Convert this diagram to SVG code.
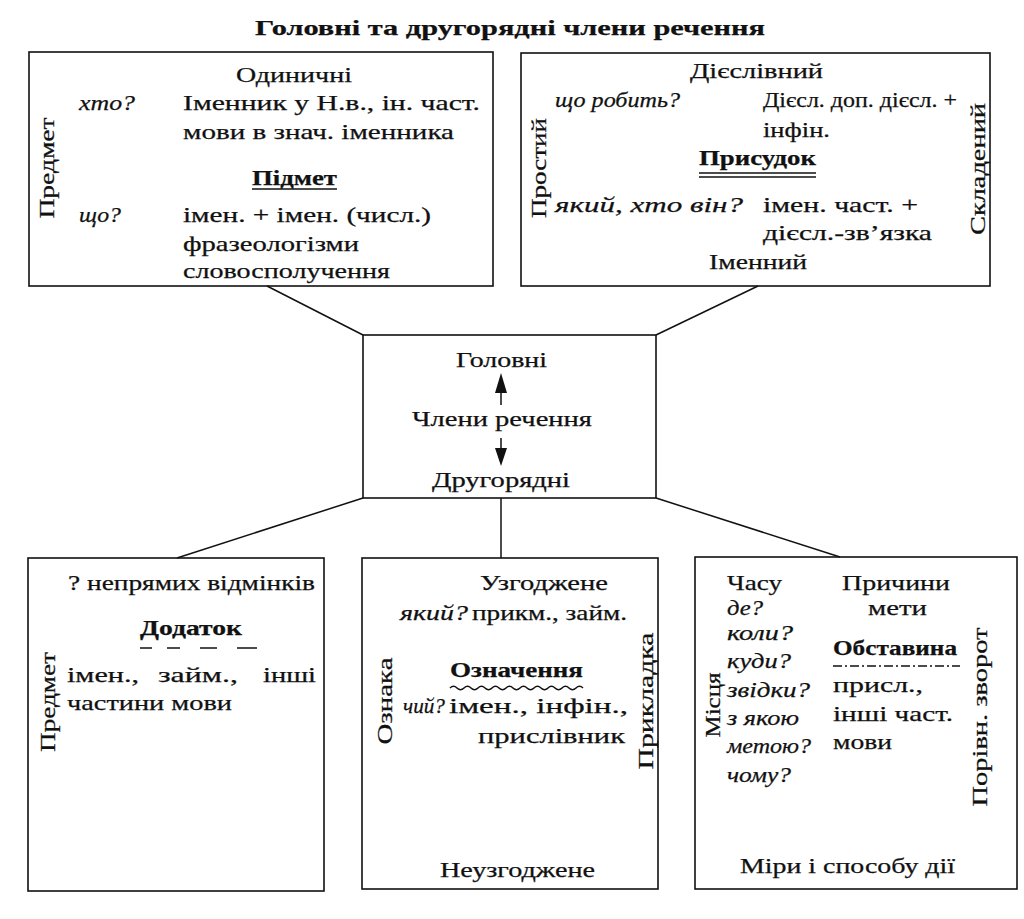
<svg xmlns="http://www.w3.org/2000/svg" width="1024" height="919" viewBox="0 0 1024 919">
<defs>
<style>
.t{font-family:"Liberation Serif","DejaVu Serif",serif;font-size:21px;fill:#111;stroke:#111;stroke-width:0.25}
.b{font-weight:bold}
.i{font-style:italic}
.m{text-anchor:middle}
.box{fill:none;stroke:#111;stroke-width:1.6}
.ln{stroke:#111;stroke-width:1.5;fill:none}
.ah{fill:#111;stroke:none}
</style>
</defs>
<rect width="1024" height="919" fill="#fff"/>
<text class="t b m" x="510" y="35" font-size="27" textLength="510" lengthAdjust="spacingAndGlyphs">Головні та другорядні члени речення</text>

<g id="connectors">
<line class="ln" x1="267" y1="286" x2="363" y2="335"/>
<line class="ln" x1="758" y1="286" x2="656" y2="335"/>
<line class="ln" x1="363" y1="498" x2="177" y2="558"/>
<line class="ln" x1="501" y1="498" x2="501" y2="558"/>
<line class="ln" x1="656" y1="498" x2="840" y2="557"/>
</g>

<g id="pidmet">
<rect class="box" x="29" y="52" width="464" height="234"/>
<text class="t" transform="translate(54,168) rotate(-90)" text-anchor="middle" textLength="101" lengthAdjust="spacingAndGlyphs">Предмет</text>
<text class="t" x="236" y="82" textLength="116" lengthAdjust="spacingAndGlyphs">Одиничні</text>
<text class="t i" x="79" y="110" textLength="56" lengthAdjust="spacingAndGlyphs">хто?</text>
<text class="t" x="183" y="110" textLength="297" lengthAdjust="spacingAndGlyphs">Іменник у Н.в., ін. част.</text>
<text class="t" x="183" y="139" textLength="271" lengthAdjust="spacingAndGlyphs">мови в знач. іменника</text>
<text class="t b" x="252" y="185" textLength="85" lengthAdjust="spacingAndGlyphs">Підмет</text>
<line class="ln" x1="252" y1="189" x2="337" y2="189"/>
<text class="t i" x="79" y="222" textLength="42" lengthAdjust="spacingAndGlyphs">що?</text>
<text class="t" x="183" y="222" textLength="248" lengthAdjust="spacingAndGlyphs">імен. + імен. (числ.)</text>
<text class="t" x="183" y="251" textLength="176" lengthAdjust="spacingAndGlyphs">фразеологізми</text>
<text class="t" x="183" y="278" textLength="207" lengthAdjust="spacingAndGlyphs">словосполучення</text>
</g>

<g id="prysudok">
<rect class="box" x="521" y="53" width="469" height="233"/>
<text class="t" transform="translate(546,168) rotate(-90)" text-anchor="middle" textLength="100" lengthAdjust="spacingAndGlyphs">Простий</text>
<text class="t" transform="translate(985,169) rotate(-90)" text-anchor="middle" textLength="132" lengthAdjust="spacingAndGlyphs">Складений</text>
<text class="t" x="690" y="78" textLength="133" lengthAdjust="spacingAndGlyphs">Дієслівний</text>
<text class="t i" x="555" y="107" textLength="125" lengthAdjust="spacingAndGlyphs">що робить?</text>
<text class="t" x="763" y="107" textLength="194" lengthAdjust="spacingAndGlyphs">Дієсл. доп. дієсл. +</text>
<text class="t" x="763" y="137" textLength="67" lengthAdjust="spacingAndGlyphs">інфін.</text>
<text class="t b" x="699" y="165" textLength="117" lengthAdjust="spacingAndGlyphs">Присудок</text>
<line class="ln" x1="699" y1="173" x2="816" y2="173" stroke-width="1.3"/>
<line class="ln" x1="699" y1="177" x2="816" y2="177" stroke-width="1.3"/>
<text class="t i" x="555" y="212" textLength="188" lengthAdjust="spacingAndGlyphs">який, хто він?</text>
<text class="t" x="763" y="212" textLength="155" lengthAdjust="spacingAndGlyphs">імен. част. +</text>
<text class="t" x="763" y="240" textLength="169" lengthAdjust="spacingAndGlyphs">дієсл.-зв’язка</text>
<text class="t" x="709" y="269" textLength="98" lengthAdjust="spacingAndGlyphs">Іменний</text>
</g>

<g id="center">
<rect class="box" x="363" y="335" width="293" height="163"/>
<text class="t" x="456" y="367" textLength="91" lengthAdjust="spacingAndGlyphs">Головні</text>
<line class="ln" x1="501" y1="405" x2="501" y2="390"/>
<polygon class="ah" points="501,373 495,393 507,393"/>
<text class="t" x="412" y="426" textLength="180" lengthAdjust="spacingAndGlyphs">Члени речення</text>
<line class="ln" x1="501" y1="438" x2="501" y2="453"/>
<polygon class="ah" points="501,466 495,448 507,448"/>
<text class="t" x="432" y="487" textLength="138" lengthAdjust="spacingAndGlyphs">Другорядні</text>
</g>

<g id="dodatok">
<rect class="box" x="28" y="558" width="296" height="333"/>
<text class="t" transform="translate(55,702) rotate(-90)" text-anchor="middle" textLength="100" lengthAdjust="spacingAndGlyphs">Предмет</text>
<text class="t" x="68" y="590" textLength="247" lengthAdjust="spacingAndGlyphs">? непрямих відмінків</text>
<text class="t b" x="140" y="635" textLength="102" lengthAdjust="spacingAndGlyphs">Додаток</text>
<line class="ln" x1="140" y1="648" x2="152" y2="648"/>
<line class="ln" x1="167" y1="648" x2="180" y2="648"/>
<line class="ln" x1="200" y1="648" x2="217" y2="648"/>
<line class="ln" x1="237" y1="648" x2="257" y2="648"/>
<text class="t" x="67" y="682" textLength="72" lengthAdjust="spacingAndGlyphs">імен.,</text>
<text class="t" x="158" y="682" textLength="80" lengthAdjust="spacingAndGlyphs">займ.,</text>
<text class="t" x="263" y="682" textLength="53" lengthAdjust="spacingAndGlyphs">інші</text>
<text class="t" x="67" y="710" textLength="165" lengthAdjust="spacingAndGlyphs">частини мови</text>
</g>

<g id="oznachennia">
<rect class="box" x="362" y="558" width="296" height="331"/>
<text class="t" transform="translate(392,701) rotate(-90)" text-anchor="middle" textLength="87" lengthAdjust="spacingAndGlyphs">Ознака</text>
<text class="t" transform="translate(653,701) rotate(-90)" text-anchor="middle" textLength="137" lengthAdjust="spacingAndGlyphs">Прикладка</text>
<text class="t" x="480" y="590" textLength="128" lengthAdjust="spacingAndGlyphs">Узгоджене</text>
<text class="t i" x="400" y="620" textLength="68" lengthAdjust="spacingAndGlyphs">який?</text>
<text class="t" x="472" y="620" textLength="155" lengthAdjust="spacingAndGlyphs">прикм., займ.</text>
<text class="t b" x="450" y="677" textLength="133" lengthAdjust="spacingAndGlyphs">Означення</text>
<path class="ln" stroke-width="1.3" d="M450,688 q3.5,-3.5 7,0 t7,0 t7,0 t7,0 t7,0 t7,0 t7,0 t7,0 t7,0 t7,0 t7,0 t7,0 t7,0 t7,0 t7,0 t7,0 t7,0 t7,0 t7,0"/>
<text class="t i" x="403" y="713" textLength="42" lengthAdjust="spacingAndGlyphs">чий?</text>
<text class="t" x="449" y="713" textLength="179" lengthAdjust="spacingAndGlyphs">імен., інфін.,</text>
<text class="t" x="478" y="743" textLength="147" lengthAdjust="spacingAndGlyphs">прислівник</text>
<text class="t" x="440" y="877" textLength="155" lengthAdjust="spacingAndGlyphs">Неузгоджене</text>
</g>

<g id="obstavyna">
<rect class="box" x="695" y="557" width="322" height="332"/>
<text class="t" transform="translate(720,705) rotate(-90)" text-anchor="middle" textLength="65" lengthAdjust="spacingAndGlyphs">Місця</text>
<text class="t" transform="translate(987,717) rotate(-90)" text-anchor="middle" textLength="179" lengthAdjust="spacingAndGlyphs">Порівн. зворот</text>
<text class="t" x="727" y="590" textLength="55" lengthAdjust="spacingAndGlyphs">Часу</text>
<text class="t" x="842" y="590" textLength="108" lengthAdjust="spacingAndGlyphs">Причини</text>
<text class="t i" x="727" y="615" textLength="36" lengthAdjust="spacingAndGlyphs">де?</text>
<text class="t" x="868" y="615" textLength="59" lengthAdjust="spacingAndGlyphs">мети</text>
<text class="t i" x="727" y="640" textLength="66" lengthAdjust="spacingAndGlyphs">коли?</text>
<text class="t b" x="833" y="655" textLength="124" lengthAdjust="spacingAndGlyphs">Обставина</text>
<line class="ln" x1="833" y1="666" x2="960" y2="666" stroke-width="1.3" stroke-dasharray="9 3 2 3"/>
<text class="t i" x="727" y="668" textLength="64" lengthAdjust="spacingAndGlyphs">куди?</text>
<text class="t" x="833" y="692" textLength="90" lengthAdjust="spacingAndGlyphs">присл.,</text>
<text class="t i" x="727" y="697" textLength="83" lengthAdjust="spacingAndGlyphs">звідки?</text>
<text class="t" x="833" y="721" textLength="120" lengthAdjust="spacingAndGlyphs">інші част.</text>
<text class="t i" x="727" y="725" textLength="72" lengthAdjust="spacingAndGlyphs">з якою</text>
<text class="t" x="833" y="749" textLength="59" lengthAdjust="spacingAndGlyphs">мови</text>
<text class="t i" x="727" y="753" textLength="84" lengthAdjust="spacingAndGlyphs">метою?</text>
<text class="t i" x="727" y="782" textLength="64" lengthAdjust="spacingAndGlyphs">чому?</text>
<text class="t" x="740" y="873" textLength="215" lengthAdjust="spacingAndGlyphs">Міри і способу дії</text>
</g>
</svg>
